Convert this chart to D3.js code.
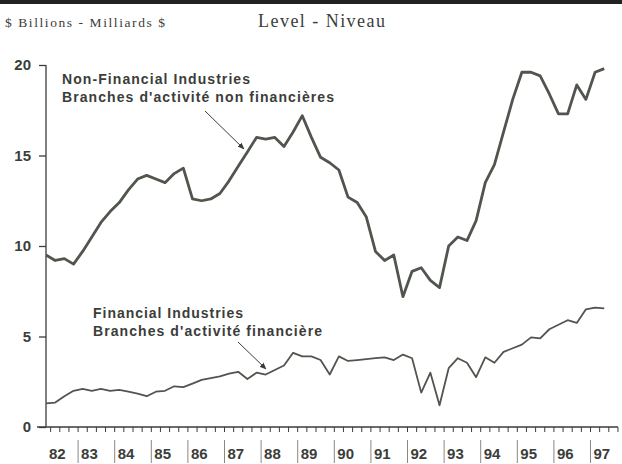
<!DOCTYPE html>
<html>
<head>
<meta charset="utf-8">
<script src="https://cdn.jsdelivr.net/npm/d3@7"></script>
<style>
  body { margin: 0; background: #fff; }
  text { font-family: "Liberation Sans", Arial, sans-serif; }
</style>
</head>
<body>
<script>
// quarterly data, 1982 Q1 .. 1997 Q2 ($ billions)
const startYear = 1982;
const nonFinancial = [
  9.5, 9.2, 9.3, 9.0,   9.7, 10.5, 11.3, 11.9,  12.4, 13.1, 13.7, 13.9,
  13.7, 13.5, 14.0, 14.3,  12.6, 12.5, 12.6, 12.9,  13.6, 14.4, 15.2, 16.0,
  15.9, 16.0, 15.5, 16.3,  17.2, 16.0, 14.9, 14.6,  14.2, 12.7, 12.4, 11.6,
  9.7, 9.2, 9.5, 7.2,   8.6, 8.8, 8.1, 7.7,   10.0, 10.5, 10.3, 11.4,
  13.5, 14.5, 16.3, 18.1,  19.6, 19.6, 19.4, 18.4,  17.3, 17.3, 18.9, 18.1,
  19.6, 19.8
];
const financial = [
  1.3, 1.35, 1.7, 2.0,  2.1, 2.0, 2.1, 2.0,  2.05, 1.95, 1.85, 1.7,
  1.95, 2.0, 2.25, 2.2,  2.4, 2.6, 2.7, 2.8,  2.95, 3.05, 2.65, 3.0,
  2.9, 3.15, 3.4, 4.1,  3.9, 3.9, 3.7, 2.9,  3.9, 3.65, 3.7, 3.75,
  3.8, 3.85, 3.7, 4.0,  3.8, 1.9, 3.0, 1.2,  3.25, 3.8, 3.55, 2.75,
  3.85, 3.55, 4.15, 4.35,  4.55, 4.95, 4.9, 5.4,  5.65, 5.9, 5.75, 6.5,
  6.6, 6.55
];
const yTicks = [0, 5, 10, 15, 20];
const yearLabels = ["82","83","84","85","86","87","88","89","90","91","92","93","94","95","96","97"];

const W = 622, H = 464;
const ink = "#3b3d3a";
const lineCol = "#50554d";

const svg = d3.select("body").append("svg")
  .attr("width", W).attr("height", H);

// top band
svg.append("rect").attr("x", 0).attr("y", 0).attr("width", W).attr("height", 4).attr("fill", "#222");

svg.append("text").text("$ Billions - Milliards $")
  .attr("x", 5).attr("y", 27)
  .attr("textLength", 160).attr("lengthAdjust", "spacing")
  .style("font-family", "'Liberation Serif', serif")
  .attr("font-size", 13.5).attr("fill", ink);
svg.append("text").text("Level - Niveau")
  .attr("x", 258).attr("y", 27)
  .attr("textLength", 127).attr("lengthAdjust", "spacing")
  .style("font-family", "'Liberation Serif', serif")
  .attr("font-size", 18).attr("fill", ink);

// scales: points sit mid-quarter
const x = d3.scaleLinear().domain([1982, 1998]).range([41.5, 41.5 + 16 * 36.6]);
const y = d3.scaleLinear().domain([0, 20]).range([427, 65]);
const tq = i => startYear + (i + 0.5) / 4;

// y axis
const axisX = 46;
const yAxis = d3.axisLeft(y).tickValues(yTicks).tickSize(7).tickPadding(8);
const gy = svg.append("g").attr("transform", `translate(${axisX},0)`).call(yAxis);
gy.select(".domain").remove();
gy.selectAll("line").attr("stroke", ink).attr("stroke-width", 1.3);
gy.selectAll("text").attr("font-size", 15).attr("font-weight", "bold").attr("fill", ink)
  .style("font-family", "'Liberation Sans', Arial, sans-serif");
svg.append("line").attr("x1", axisX).attr("x2", axisX).attr("y1", y(20)).attr("y2", y(0))
  .attr("stroke", ink).attr("stroke-width", 1.3);

// x axis
const x0 = 37, x1 = x(1997.75);
svg.append("line").attr("x1", x0).attr("x2", x1).attr("y1", y(0)).attr("y2", y(0))
  .attr("stroke", ink).attr("stroke-width", 1.5);
const qTicks = d3.range(1, 16 * 4).map(i => 1982 + i / 4).filter(t => x(t) <= x1 + 0.5);
svg.append("g").selectAll("line").data(qTicks).join("line")
  .attr("x1", d => x(d)).attr("x2", d => x(d))
  .attr("y1", y(0)).attr("y2", y(0) + 5)
  .attr("stroke", ink).attr("stroke-width", 1);
const years = d3.range(1983, 1998);
svg.append("g").selectAll("line").data(years).join("line")
  .attr("x1", d => x(d)).attr("x2", d => x(d))
  .attr("y1", 440).attr("y2", 463)
  .attr("stroke", "#888").attr("stroke-width", 1);
svg.append("g").selectAll("text").data(yearLabels).join("text")
  .text(d => d)
  .attr("x", (d, i) => Math.max(x(1982 + i), axisX) + 3)
  .attr("y", 459)
  .attr("font-size", 15).attr("font-weight", "bold").attr("fill", ink);

// series
const line = d3.line().x((d, i) => x(tq(i))).y(d => y(d)).curve(d3.curveLinear);
svg.append("path").datum(nonFinancial).attr("d", line)
  .attr("fill", "none").attr("stroke", lineCol).attr("stroke-width", 2.8)
  .attr("stroke-linejoin", "round");
svg.append("path").datum(financial).attr("d", line)
  .attr("fill", "none").attr("stroke", lineCol).attr("stroke-width", 1.8)
  .attr("stroke-linejoin", "round");

// annotations
svg.append("defs").append("marker")
  .attr("id", "arr").attr("viewBox", "0 0 10 10").attr("refX", 9).attr("refY", 5)
  .attr("markerWidth", 7).attr("markerHeight", 7).attr("orient", "auto")
  .append("path").attr("d", "M0,1 L10,5 L0,9 Z").attr("fill", ink);

const notes = [
  { lines: ["Non-Financial Industries", "Branches d'activité non financières"], widths: [188, 272],
    x: 62, y: 84, from: [205, 111], to: [244, 149] },
  { lines: ["Financial Industries", "Branches d'activité financière"], widths: [150, 229],
    x: 93, y: 318, from: [238, 342], to: [266, 369] }
];
notes.forEach(n => {
  n.lines.forEach((t, i) => {
    svg.append("text").text(t).attr("x", n.x).attr("y", n.y + i * 18)
      .attr("textLength", n.widths[i]).attr("lengthAdjust", "spacing")
      .attr("font-size", 14).attr("font-weight", "bold").attr("fill", ink);
  });
  svg.append("line").attr("x1", n.from[0]).attr("y1", n.from[1]).attr("x2", n.to[0]).attr("y2", n.to[1])
    .attr("stroke", ink).attr("stroke-width", 1).attr("marker-end", "url(#arr)");
});
</script>
</body>
</html>
